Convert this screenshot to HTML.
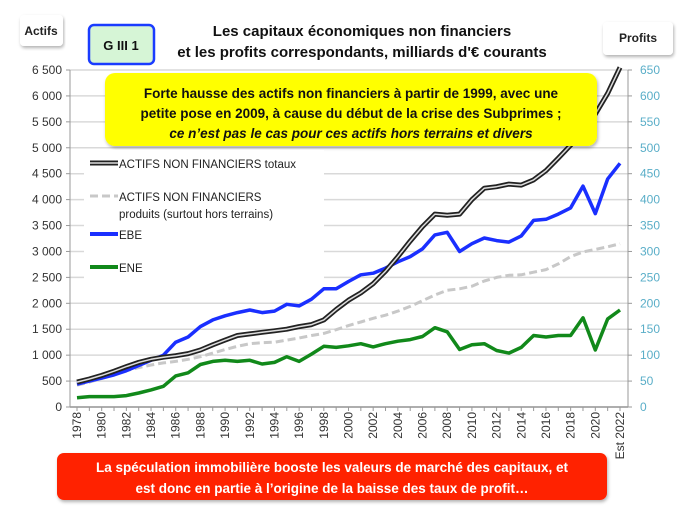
<!DOCTYPE html>
<html><head><meta charset="utf-8"><style>
body{margin:0;background:#fff;}
svg{display:block;font-family:"Liberation Sans",sans-serif;}
</style></head><body>
<svg width="684" height="514" viewBox="0 0 684 514">
<defs><filter id="sh" x="-5%" y="-5%" width="110%" height="120%"><feDropShadow dx="1" dy="2" stdDeviation="1.5" flood-opacity="0.3"/></filter></defs>
<g id="grid"></g>
<g id="axes"></g>
<g id="series"></g>
<rect x="20" y="15" width="43" height="31" rx="4" fill="#fff" filter="url(#sh)"/>
<text x="41" y="35" font-size="12" font-weight="bold" text-anchor="middle" fill="#222">Actifs</text>
<rect x="603" y="22" width="70" height="33" rx="4" fill="#fff" filter="url(#sh)"/>
<text x="638" y="42" font-size="12" font-weight="bold" text-anchor="middle" fill="#222">Profits</text>
<rect x="89" y="25" width="65" height="39" rx="5" fill="#d6f5d6" stroke="#1a3cff" stroke-width="2.5"/>
<text x="121" y="50" font-size="13" font-weight="bold" text-anchor="middle" fill="#111">G III 1</text>
<text x="362" y="36" font-size="15" font-weight="bold" text-anchor="middle" fill="#111">Les capitaux économiques non financiers</text>
<text x="362" y="57" font-size="15" font-weight="bold" text-anchor="middle" fill="#111">et les profits correspondants, milliards d'€ courants</text>
<rect x="105" y="73" width="492" height="73" rx="10" fill="#ffff00" filter="url(#sh)"/>
<g font-size="13.5" font-weight="bold" text-anchor="middle" fill="#111">
<text x="351" y="98">Forte hausse des actifs non financiers à partir de 1999, avec une</text>
<text x="351" y="118">petite pose en 2009, à cause du début de la crise des Subprimes ;</text>
<text x="351" y="138" font-style="italic">ce n’est pas le cas pour ces actifs hors terrains et divers</text>
</g>
<g font-size="11.5" fill="#222">
<rect x="84" y="150" width="240" height="130" fill="#fff"/>
<line x1="90" y1="163" x2="118" y2="163" stroke="#222" stroke-width="5"/>
<line x1="90" y1="163" x2="118" y2="163" stroke="#ddd" stroke-width="1.5"/>
<text x="119" y="168">ACTIFS NON FINANCIERS totaux</text>
<line x1="90" y1="196" x2="118" y2="196" stroke="#c8c8c8" stroke-width="3" stroke-dasharray="8,4"/>
<text x="119" y="201">ACTIFS NON FINANCIERS</text>
<text x="119" y="218">produits (surtout hors terrains)</text>
<line x1="90" y1="234" x2="118" y2="234" stroke="#1a2fff" stroke-width="4"/>
<text x="119" y="239">EBE</text>
<line x1="90" y1="267" x2="118" y2="267" stroke="#11891a" stroke-width="4"/>
<text x="119" y="272">ENE</text>
</g>
<rect x="57" y="453" width="550" height="47" rx="7" fill="#ff2200" filter="url(#sh)"/>
<g font-size="13.5" font-weight="bold" text-anchor="middle" fill="#fff">
<text x="332" y="472">La spéculation immobilière booste les valeurs de marché des capitaux, et</text>
<text x="332" y="493">est donc en partie à l’origine de la baisse des taux de profit…</text>
</g>
<script>
const years=[];for(let y=1978;y<=2022;y++)years.push(y);
const actifsTotaux=[480,540,610,690,780,860,920,960,990,1030,1100,1200,1290,1380,1410,1440,1470,1500,1550,1590,1680,1880,2060,2200,2380,2620,2900,3200,3480,3720,3700,3720,4000,4220,4250,4300,4280,4380,4560,4800,5050,5350,5650,6050,6550];
const actifsProduits=[420,480,550,620,700,760,810,850,880,920,970,1040,1110,1170,1220,1240,1250,1290,1330,1380,1420,1490,1570,1640,1710,1770,1850,1940,2050,2160,2250,2280,2330,2430,2500,2540,2550,2600,2650,2760,2900,2990,3040,3090,3150];
const ebe=[44,50,56,62,70,80,90,100,125,135,155,168,176,182,187,182,185,198,195,208,228,228,242,255,258,268,280,290,305,332,337,300,315,326,321,318,330,360,362,372,384,426,373,440,470];
const ene=[18,20,20,20,22,27,33,40,60,66,82,88,90,88,90,83,86,97,88,102,117,115,118,122,116,122,127,130,136,153,145,111,120,122,109,104,115,138,135,138,138,172,110,170,187];
const leftTicks=[0,500,1000,1500,2000,2500,3000,3500,4000,4500,5000,5500,6000,6500];
const rightTicks=[0,50,100,150,200,250,300,350,400,450,500,550,600,650];
const NS="http://www.w3.org/2000/svg";
const X0=70,X1=628,Y0=407,Y1=70;
const yL=v=>Y0-v*(Y0-Y1)/6500;
const yR=v=>Y0-v*(Y0-Y1)/650;
const xS=i=>77+i*(620-77)/(years.length-1);
function mk(tag,attrs,parent){const e=document.createElementNS(NS,tag);for(const k in attrs)e.setAttribute(k,attrs[k]);parent.appendChild(e);return e;}
const grid=document.getElementById('grid'),axes=document.getElementById('axes'),ser=document.getElementById('series');
leftTicks.forEach(t=>{
  const g=mk('line',{x1:X0,x2:X1,y1:yL(t),y2:yL(t),stroke:'#d9d9d9','stroke-width':1.5},grid);
  
  
  mk('line',{x1:X0-4,x2:X0,y1:yL(t),y2:yL(t),stroke:'#999'},axes);
  const tx=mk('text',{x:X0-8,y:yL(t)+4,'font-size':12,'text-anchor':'end',fill:'#333'},axes);
  tx.textContent=t===0?'0':t.toLocaleString('fr-FR').replace(/\s/g,' ');
  
  
});
rightTicks.forEach(t=>{
  mk('line',{x1:X1,x2:X1+4,y1:yR(t),y2:yR(t),stroke:'#999'},axes);
  const tx=mk('text',{x:X1+12,y:yR(t)+4,'font-size':12,fill:'#5aaec8'},axes);
  tx.textContent=t;
  
  
});
mk('line',{x1:X0,x2:X0,y1:Y1,y2:Y0,stroke:'#999'},axes);
mk('line',{x1:X1,x2:X1,y1:Y1,y2:Y0,stroke:'#999'},axes);
mk('line',{x1:X0,x2:X1,y1:Y0,y2:Y0,stroke:'#999','stroke-width':1.5},axes);
years.forEach((y,i)=>{
  mk('line',{x1:xS(i),x2:xS(i),y1:Y0,y2:Y0+4,stroke:'#999'},axes);
  if(i%2===0){
    const tx=mk('text',{x:0,y:0,'font-size':12,'text-anchor':'end',fill:'#333',transform:`translate(${xS(i)+4},${Y0+5}) rotate(-90)`},axes);
    tx.textContent=(y===2022?'Est ':'')+y;
    
    
  }
});
function line(arr,ys,attrs,name){
  const d=arr.map((v,i)=>(i?'L':'M')+xS(i).toFixed(1)+','+Math.max(ys(v),62).toFixed(1)).join('');
  const p=mk('path',Object.assign({d:d,fill:'none','stroke-linejoin':'round'},attrs),ser);
  
  
  return p;
}
line(actifsProduits,yL,{stroke:'#c8c8c8','stroke-width':3,'stroke-dasharray':'8,4'},'line-actifs-produits');
line(ene,yR,{stroke:'#11891a','stroke-width':3.5},'line-ene');
line(ebe,yR,{stroke:'#1a2fff','stroke-width':3.5},'line-ebe');
line(actifsTotaux,yL,{stroke:'#222','stroke-width':5},'line-actifs-totaux');
line(actifsTotaux,yL,{stroke:'#ddd','stroke-width':1.5},'line-actifs-totaux-inner');
</script>
</svg>
</body></html>
